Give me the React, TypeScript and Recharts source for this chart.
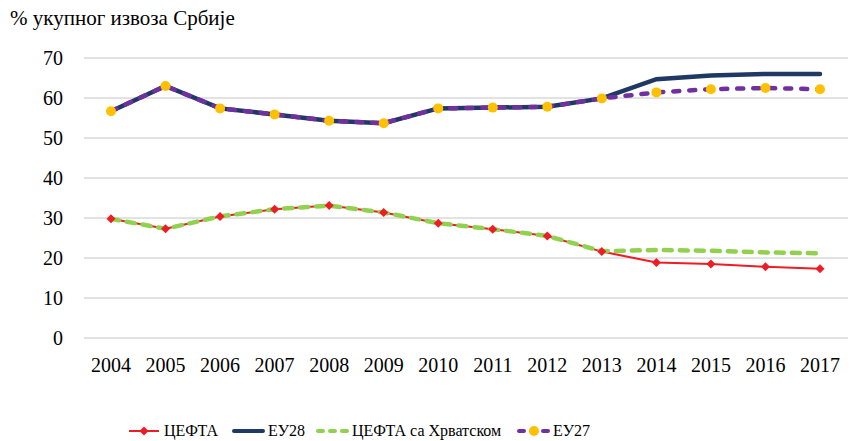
import { LineChart, Line, CartesianGrid, XAxis, YAxis, Legend } from 'recharts';

const years = ['2004', '2005', '2006', '2007', '2008', '2009', '2010', '2011', '2012', '2013', '2014', '2015', '2016', '2017'];
const cefta = [29.8, 27.3, 30.4, 32.2, 33.1, 31.4, 28.7, 27.2, 25.5, 21.6, 18.9, 18.5, 17.8, 17.3];
const eu28 = [56.7, 63.0, 57.4, 55.9, 54.3, 53.7, 57.4, 57.6, 57.8, 59.9, 64.7, 65.6, 66.0, 66.0];
const ceftaHr = [29.8, 27.3, 30.4, 32.2, 33.1, 31.4, 28.7, 27.2, 25.5, 21.7, 22.0, 21.8, 21.4, 21.2];
const eu27 = [56.7, 63.0, 57.4, 55.9, 54.3, 53.7, 57.4, 57.6, 57.8, 59.9, 61.4, 62.2, 62.5, 62.2];
const yTicks = [0, 10, 20, 30, 40, 50, 60, 70];

const data = years.map((y, i) => ({
  year: y,
  cefta: cefta[i],
  eu28: eu28[i],
  ceftaHr: ceftaHr[i],
  eu27: eu27[i],
}));

const FONT = '"Liberation Serif", serif';
const RED = '#EE1C25';
const NAVY = '#1F3864';
const GREEN = '#92D050';
const PURPLE = '#7030A0';
const YELLOW = '#FFC000';

const Diamond = (props: any) => {
  const { cx, cy, index } = props;
  if (cx == null || cy == null) return <g key={index} />;
  const r = 4.5;
  return (
    <polygon
      key={index}
      points={`${cx},${cy - r} ${cx + r},${cy} ${cx},${cy + r} ${cx - r},${cy}`}
      fill={RED}
    />
  );
};

const LegendContent = () => {
  const item = (left: number, icon: any, label: string) => (
    <div style={{ position: 'absolute', left, top: 0, display: 'flex', alignItems: 'center', whiteSpace: 'nowrap' }}>
      <svg width={33} height={14} style={{ marginRight: 3 }}>{icon}</svg>
      <span>{label}</span>
    </div>
  );
  return (
    <div style={{ position: 'relative', height: 20, fontFamily: FONT, fontSize: 16, color: '#000' }}>
      {item(
        0,
        <g>
          <line x1={1} y1={7} x2={31} y2={7} stroke={RED} strokeWidth={2} />
          <polygon points="16,2.5 20.5,7 16,11.5 11.5,7" fill={RED} />
        </g>,
        'ЦЕФТА'
      )}
      {item(
        104,
        <line x1={2} y1={7} x2={31} y2={7} stroke={NAVY} strokeWidth={4} strokeLinecap="round" />,
        'ЕУ28'
      )}
      {item(
        188,
        <line x1={2} y1={7} x2={32} y2={7} stroke={GREEN} strokeWidth={4} strokeLinecap="round" strokeDasharray="5 7" />,
        'ЦЕФТА са Хрватском'
      )}
      {item(
        389,
        <g>
          <line x1={2} y1={7} x2={32} y2={7} stroke={PURPLE} strokeWidth={4} strokeLinecap="round" strokeDasharray="5 7" />
          <circle cx={17} cy={7} r={5} fill={YELLOW} />
        </g>,
        'ЕУ27'
      )}
    </div>
  );
};

export default function App() {
  return (
    <div style={{ position: 'absolute', left: 0, top: 0, width: 854, height: 441, background: '#fff' }}>
      <div style={{ position: 'absolute', left: 10, top: 6, fontFamily: FONT, fontSize: 21, color: '#000' }}>
        % укупног извоза Србије
      </div>
      <LineChart
        width={854}
        height={441}
        data={data}
        margin={{ top: 58, right: 6, left: 0, bottom: 0 }}
      >
        <CartesianGrid vertical={false} stroke="#D9D9D9" strokeWidth={1.5} />
        <XAxis
          dataKey="year"
          axisLine={false}
          tickLine={false}
          tickMargin={14}
          height={83}
          interval={0}
          padding={{ left: 27, right: 28 }}
          tick={{ fill: '#000', fontSize: 20, fontFamily: FONT }}
        />
        <YAxis
          domain={[0, 70]}
          ticks={yTicks}
          axisLine={false}
          tickLine={false}
          tickMargin={15}
          width={84}
          tick={{ fill: '#000', fontSize: 20, fontFamily: FONT }}
        />
        <Legend
          verticalAlign="bottom"
          content={<LegendContent />}
          wrapperStyle={{ position: 'absolute', left: 128, top: 422, width: 500, height: 20 }}
        />
        <Line
          type="linear"
          dataKey="cefta"
          stroke={RED}
          strokeWidth={2}
          dot={Diamond}
          activeDot={false}
          isAnimationActive={false}
        />
        <Line
          type="linear"
          dataKey="eu28"
          stroke={NAVY}
          strokeWidth={4.5}
          strokeLinecap="round"
          dot={false}
          activeDot={false}
          isAnimationActive={false}
        />
        <Line
          type="linear"
          dataKey="ceftaHr"
          stroke={GREEN}
          strokeWidth={4.5}
          strokeLinecap="round"
          strokeDasharray="8 8"
          dot={false}
          activeDot={false}
          isAnimationActive={false}
        />
        <Line
          type="linear"
          dataKey="eu27"
          stroke={PURPLE}
          strokeWidth={4.5}
          strokeLinecap="round"
          strokeDasharray="6 10"
          dot={{ r: 5, fill: YELLOW, stroke: 'none' }}
          activeDot={false}
          isAnimationActive={false}
        />
      </LineChart>
    </div>
  );
}
